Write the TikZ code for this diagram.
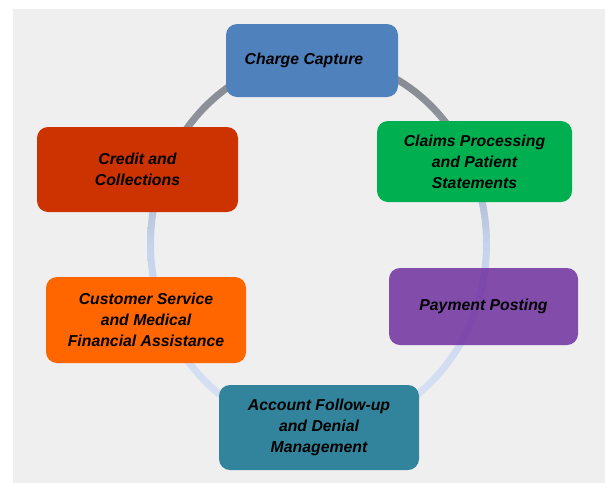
\documentclass[tikz,border=0pt]{standalone}
\usepackage{fontspec}
\setmainfont{Liberation Sans}
\definecolor{bg}{HTML}{EFEFEF}
\definecolor{ringtop}{HTML}{85888F}
\definecolor{ringup}{HTML}{8E929B}
\definecolor{ringlow}{HTML}{AEB9CF}
\definecolor{ringmid}{HTML}{C6D3EC}
\definecolor{ringbot}{HTML}{DAE3F5}
\definecolor{cblue}{HTML}{4F81BD}
\definecolor{cgreen}{HTML}{00B050}
\definecolor{cpurple}{HTML}{7030A0}
\definecolor{cteal}{HTML}{31849B}
\definecolor{corange}{HTML}{FF6600}
\definecolor{cred}{HTML}{CC3300}
\pgfdeclareverticalshading{ringshade}{100bp}{color(0bp)=(ringbot); color(25bp)=(ringbot); color(50bp)=(ringmid); color(58bp)=(ringlow); color(66bp)=(ringup); color(75bp)=(ringtop); color(100bp)=(ringtop)}
\tikzset{
  stagebox/.style={rectangle, rounded corners=11pt, inner sep=0pt, align=center,
    font=\bfseries\itshape\fontsize{15.8}{21}\selectfont, text=black}
}
\begin{document}
\begin{tikzpicture}[x=1pt,y=-1pt]
\useasboundingbox (0,0) rectangle (605,483);
\fill[bg] (13,9) rectangle (605,483);
\coordinate (ringc) at (318.5,244);
\shade[even odd rule, shading=ringshade]
  (ringc) ellipse (171.5 and 189.5) (ringc) ellipse (164.5 and 182.5);
\node[stagebox, fill=cblue, minimum width=172pt, minimum height=73pt] (charge) at (312,60.5)
  {\hspace*{-16pt}Charge Capture};
\node[stagebox, fill=cgreen, minimum width=195pt, minimum height=81pt] (claims) at (474.5,161.5)
  {Claims Processing\\and Patient\\Statements};
\node[stagebox, fill=cpurple, fill opacity=0.85, text opacity=1, minimum width=189pt, minimum height=77pt] (payment) at (483.5,306.5)
  {Payment Posting};
\node[stagebox, fill=cteal, minimum width=200pt, minimum height=85pt] (account) at (319,427.5)
  {Account Follow-up\\and Denial\\Management};
\node[stagebox, fill=corange, minimum width=200pt, minimum height=86pt] (customer) at (146,320)
  {Customer Service\\and Medical\\Financial Assistance};
\node[stagebox, fill=cred, minimum width=201pt, minimum height=85pt] (credit) at (137.5,169.5)
  {Credit and\\Collections};
\end{tikzpicture}
\end{document}
